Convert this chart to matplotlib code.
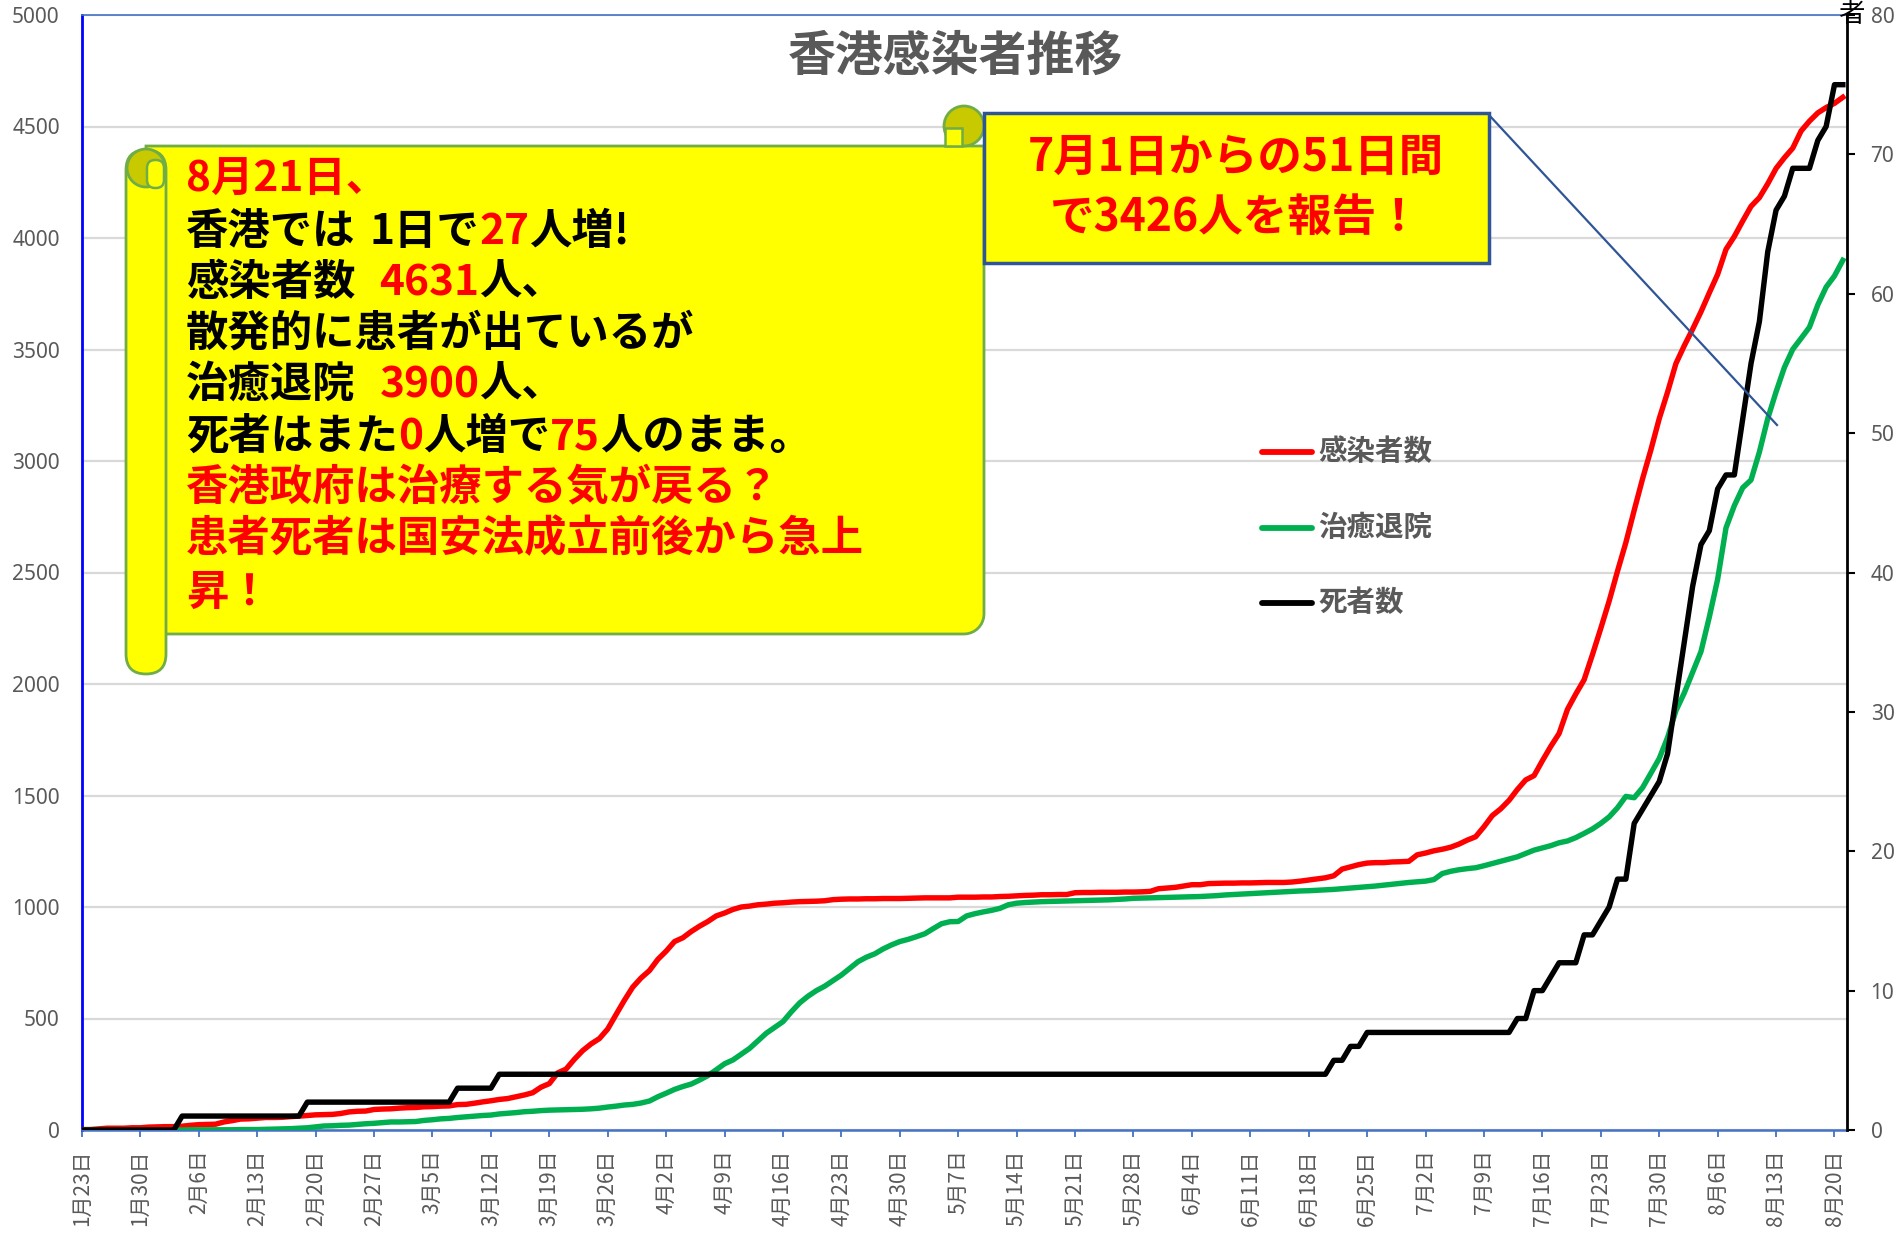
import matplotlib
matplotlib.use('Agg')
import matplotlib.pyplot as plt
from matplotlib.patches import Rectangle, Circle, FancyBboxPatch, Polygon
import numpy as np

plt.rcParams['font.family'] = ['Noto Sans CJK JP', 'DejaVu Sans']

# ---------------- data (daily, 1月23日 .. 8月21日) ----------------
cases_jan = [2, 2, 5, 8, 8, 8, 10, 10, 13]
cases_feb = [14, 15, 15, 17, 21, 24, 25, 26, 36, 42, 49, 50, 53, 56, 56, 57, 60, 62, 65, 68,
             69, 70, 74, 81, 84, 85, 92, 94, 95]
cases_mar = [98, 100, 101, 104, 105, 107, 108, 114, 115, 120, 126, 131, 137, 141, 149, 157, 167,
             192, 208, 256, 273, 317, 356, 386, 410, 453, 518, 582, 641, 682, 715]
cases_apr = [765, 802, 845, 862, 890, 914, 935, 960, 973, 989, 1000, 1004, 1010, 1013, 1017, 1019,
             1022, 1024, 1025, 1026, 1028, 1033, 1035, 1036, 1036, 1037, 1037, 1038, 1038, 1038]
cases_may = [1039, 1040, 1041, 1041, 1041, 1041, 1044, 1044, 1044, 1045, 1045, 1047, 1048, 1050,
             1052, 1053, 1055, 1055, 1056, 1056, 1064, 1065, 1065, 1066, 1066, 1066, 1067, 1067,
             1068, 1070, 1082]
cases_jun = [1085, 1088, 1094, 1100, 1100, 1105, 1106, 1107, 1107, 1108, 1108, 1109, 1110, 1110,
             1110, 1112, 1116, 1121, 1126, 1131, 1140, 1170, 1180, 1190, 1197, 1199, 1199, 1202,
             1203, 1205]
cases_jul = [1234, 1242, 1252, 1259, 1268, 1282, 1300, 1315, 1360, 1410, 1440, 1478, 1527, 1570,
             1589, 1656, 1720, 1778, 1886, 1955, 2019, 2132, 2250, 2372, 2506, 2634, 2779, 2920,
             3050, 3190, 3309]
cases_aug = [3437, 3517, 3591, 3669, 3754, 3837, 3949, 4007, 4076, 4142, 4181, 4243, 4312, 4360,
             4403, 4480, 4524, 4561, 4585, 4604, 4631]

rec_jan = [0, 0, 0, 0, 0, 0, 0, 0, 0]
rec_feb = [0, 0, 0, 0, 1, 1, 1, 1, 1, 1, 2, 2, 2, 3, 4, 5, 6, 8, 10, 14, 18, 19, 21, 22, 25, 28,
           30, 33, 36]
rec_mar = [36, 37, 38, 43, 46, 50, 52, 56, 59, 62, 65, 67, 72, 75, 78, 82, 84, 87, 89, 90, 91, 92,
           93, 95, 98, 103, 107, 112, 115, 121, 130]
rec_apr = [149, 165, 182, 195, 206, 224, 244, 270, 297, 314, 340, 366, 400, 434, 460, 486, 530,
           570, 600, 625, 645, 670, 695, 725, 755, 775, 790, 812, 830, 845]
rec_may = [855, 867, 880, 903, 925, 934, 935, 960, 970, 978, 985, 994, 1010, 1017, 1020, 1022, 1024,
           1025, 1026, 1027, 1028, 1029, 1030, 1031, 1032, 1034, 1036, 1039, 1040, 1041, 1042]
rec_jun = [1043, 1044, 1045, 1046, 1047, 1049, 1051, 1054, 1056, 1058, 1060, 1062, 1064, 1066,
           1068, 1070, 1072, 1073, 1075, 1077, 1079, 1082, 1085, 1088, 1091, 1094, 1098, 1102,
           1106, 1110]
rec_jul = [1113, 1116, 1123, 1150, 1160, 1167, 1172, 1176, 1185, 1195, 1205, 1215, 1225, 1240,
           1255, 1265, 1275, 1288, 1296, 1311, 1330, 1350, 1375, 1404, 1445, 1496, 1490, 1535,
           1600, 1666, 1760]
rec_aug = [1880, 1960, 2052, 2145, 2300, 2470, 2700, 2800, 2880, 2915, 3040, 3190, 3310, 3420,
           3501, 3550, 3600, 3700, 3780, 3830, 3900]

dead_jan = [0, 0, 0, 0, 0, 0, 0, 0, 0]
dead_feb = [0, 0, 0, 1, 1, 1, 1, 1, 1, 1, 1, 1, 1, 1, 1, 1, 1, 1, 2, 2, 2, 2, 2, 2, 2, 2, 2, 2, 2]
dead_mar = [2, 2, 2, 2, 2, 2, 2, 3, 3, 3, 3, 3, 4, 4, 4, 4, 4, 4, 4, 4, 4, 4, 4, 4, 4, 4, 4, 4, 4,
            4, 4]
dead_apr = [4, 4, 4, 4, 4, 4, 4, 4, 4, 4, 4, 4, 4, 4, 4, 4, 4, 4, 4, 4, 4, 4, 4, 4, 4, 4, 4, 4, 4, 4]
dead_may = [4, 4, 4, 4, 4, 4, 4, 4, 4, 4, 4, 4, 4, 4, 4, 4, 4, 4, 4, 4, 4, 4, 4, 4, 4, 4, 4, 4, 4,
            4, 4]
dead_jun = [4, 4, 4, 4, 4, 4, 4, 4, 4, 4, 4, 4, 4, 4, 4, 4, 4, 4, 4, 4, 5, 5, 6, 6, 7, 7, 7, 7, 7, 7]
dead_jul = [7, 7, 7, 7, 7, 7, 7, 7, 7, 7, 7, 7, 8, 8, 10, 10, 11, 12, 12, 12, 14, 14, 15, 16, 18,
            18, 22, 23, 24, 25, 27]
dead_aug = [31, 35, 39, 42, 43, 46, 47, 47, 51, 55, 58, 63, 66, 67, 69, 69, 69, 71, 72, 75, 75]

cases = cases_jan + cases_feb + cases_mar + cases_apr + cases_may + cases_jun + cases_jul + cases_aug
recovered = rec_jan + rec_feb + rec_mar + rec_apr + rec_may + rec_jun + rec_jul + rec_aug
deaths = dead_jan + dead_feb + dead_mar + dead_apr + dead_may + dead_jun + dead_jul + dead_aug

tick_labels = ["1月23日", "1月30日", "2月6日", "2月13日", "2月20日", "2月27日", "3月5日",
               "3月12日", "3月19日", "3月26日", "4月2日", "4月9日", "4月16日", "4月23日",
               "4月30日", "5月7日", "5月14日", "5月21日", "5月28日", "6月4日", "6月11日",
               "6月18日", "6月25日", "7月2日", "7月9日", "7月16日", "7月23日", "7月30日",
               "8月6日", "8月13日", "8月20日"]
series_names = ["感染者数", "治癒退院", "死者数"]

RED = '#FF0000'
GREEN = '#00B050'
BLACK = '#000000'
GRAY = '#595959'

# ---------------- figure ----------------
W, H = 1901, 1234
fig = plt.figure(figsize=(W / 100, H / 100), dpi=100)
fig.patch.set_facecolor('white')

L, R, T, B = 82, 1847, 15, 1130
ax = fig.add_axes([L / W, 1 - B / H, (R - L) / W, (B - T) / H])
x = np.arange(len(cases))
ax.plot(x, cases, color=RED, lw=3.9, solid_joinstyle='round', zorder=3)
ax.plot(x, recovered, color=GREEN, lw=3.9, solid_joinstyle='round', zorder=3)
ax.set_xlim(0, 211.5)
ax.set_ylim(0, 5000)
ax.set_yticks(range(0, 5001, 500))
ax.yaxis.grid(True, color='#D9D9D9', lw=1.6)
ax.set_axisbelow(True)
ax.set_xticks(range(0, 211, 7))
ax.set_xticklabels(tick_labels, rotation=90, fontsize=15, color=GRAY,
                   family=['Noto Sans CJK JP', 'DejaVu Sans'])
ax.tick_params(axis='x', direction='out', length=5, width=1.3, color='#4472C4', pad=9)
ax.tick_params(axis='y', length=0, pad=16, labelsize=15, labelcolor=GRAY)
for lab in ax.get_yticklabels():
    lab.set_family('Noto Sans')
ax.spines['left'].set_color('#0000FF')
ax.spines['left'].set_linewidth(2)
ax.spines['bottom'].set_color('#4472C4')
ax.spines['bottom'].set_linewidth(1.8)
ax.spines['top'].set_color('#4472C4')
ax.spines['top'].set_linewidth(1.2)
ax.spines['right'].set_visible(False)

ax2 = ax.twinx()
ax2.plot(x, deaths, color=BLACK, lw=3.9, solid_joinstyle='round', zorder=3)
ax2.set_ylim(0, 80)
ax2.set_yticks(range(0, 81, 10))
ax2.tick_params(axis='y', direction='out', length=6, width=1.5, color='black', pad=11,
                labelsize=15, labelcolor=GRAY)
for lab in ax2.get_yticklabels():
    lab.set_family('Noto Sans')
for s in ['left', 'top', 'bottom']:
    ax2.spines[s].set_visible(False)
ax2.spines['right'].set_color('black')
ax2.spines['right'].set_linewidth(2)

# ---------------- overlay (pixel coordinates, y downward) ----------------
ov = fig.add_axes([0, 0, 1, 1])
ov.set_xlim(0, W)
ov.set_ylim(H, 0)
ov.axis('off')
ov.set_zorder(10)

YEL = '#FFFF00'
SCR_EDGE = '#70AD47'
CURL = '#C9C900'

# title
ov.text(955, 56, "香港感染者推移", ha='center', va='center', fontsize=34.5,
        weight='bold', color=GRAY)

# legend
leg_colors = [RED, GREEN, BLACK]
leg_y = [452, 528, 603]
for name, c, yy in zip(series_names, leg_colors, leg_y):
    ov.plot([1262, 1312], [yy, yy], color=c, lw=4.2, solid_capstyle='round')
    ov.text(1318, yy, name, ha='left', va='center', fontsize=20.5, weight='bold', color=GRAY)

# scroll body
arc = np.linspace(0, np.pi / 2, 10)
body = [(146, 146), (984, 146), (984, 614)]
body += [(964 + 20 * np.cos(a), 614 + 20 * np.sin(a)) for a in arc]
body += [(146, 634)]
ov.add_patch(Polygon(body, closed=True, facecolor=YEL, edgecolor=SCR_EDGE, lw=2, zorder=1))
# top-right curl
ov.add_patch(Circle((964, 126), 20, facecolor=CURL, edgecolor=SCR_EDGE, lw=2, zorder=2))
ov.add_patch(Rectangle((945, 128), 17, 18, facecolor=YEL, edgecolor=SCR_EDGE, lw=1.8, zorder=3))
# left roll
ov.add_patch(FancyBboxPatch((126, 150), 40, 524, boxstyle="round,pad=0,rounding_size=20",
                            facecolor=YEL, edgecolor=SCR_EDGE, lw=2, zorder=2))
ov.add_patch(Circle((146, 168), 19, facecolor=CURL, edgecolor=SCR_EDGE, lw=2, zorder=3))
ov.add_patch(FancyBboxPatch((147, 160), 17, 28, boxstyle="round,pad=0,rounding_size=8",
                            facecolor=YEL, edgecolor=SCR_EDGE, lw=1.8, zorder=4))

# scroll text
renderer = fig.canvas.get_renderer()
FS = 30.5


def rich_line(x0, y0, parts, fs=FS):
    xx = x0
    for p in parts:
        if p[0] is None:
            xx += p[1]
            continue
        t = ov.text(xx, y0, p[0], color=p[1], fontsize=fs, weight='bold',
                    ha='left', va='center', zorder=6)
        bb = t.get_window_extent(renderer=renderer)
        xx += bb.width


lines = [
    (180, [("8月21日、", RED)]),
    (232, [("香港では", BLACK), (None, 14), ("1日で", BLACK), ("27", RED), ("人増!", BLACK)]),
    (283, [("感染者数", BLACK), (None, 24), ("4631", RED), ("人、", BLACK)]),
    (334, [("散発的に患者が出ているが", BLACK)]),
    (385, [("治癒退院", BLACK), (None, 24), ("3900", RED), ("人、", BLACK)]),
    (437, [("死者はまた", BLACK), ("0", RED), ("人増で", BLACK), ("75", RED),
           ("人のまま。", BLACK)]),
    (488, [("香港政府は治療する気が戻る？", RED)]),
    (539, [("患者死者は国安法成立前後から急上", RED)]),
    (593, [("昇！", RED)]),
]
for yy, parts in lines:
    rich_line(186, yy, parts)

# right box
ov.add_patch(Rectangle((984, 113), 505, 150, facecolor=YEL, edgecolor='#2F5597', lw=2.5, zorder=5))
ov.text(1236, 158, "7月1日からの51日間", ha='center', va='center', fontsize=32,
        weight='bold', color=RED, zorder=6)
ov.text(1236, 218, "で3426人を報告！", ha='center', va='center', fontsize=32,
        weight='bold', color=RED, zorder=6)
ov.plot([1489, 1777], [115, 425], color='#2F5597', lw=1.6, zorder=4)

# right-axis title (mostly hidden at the top edge in the original)
ov.text(1851, 14, "者", ha='center', va='center', fontsize=19, color='black')

fig.savefig('out.png', dpi=100)
